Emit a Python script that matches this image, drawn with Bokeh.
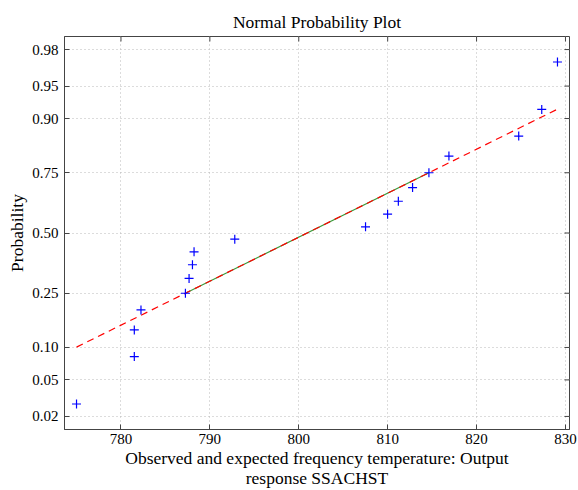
from statistics import NormalDist
import numpy as np
from bokeh.plotting import figure
from bokeh.models import FixedTicker, Range1d
from bokeh.embed import file_html
from bokeh.resources import INLINE

obs = [775.0, 781.5, 781.5, 782.25, 787.25, 787.66, 788.04, 788.22, 792.8,
       807.51, 809.99, 811.2, 812.8, 814.64, 816.89, 824.74, 827.33, 829.1]
prob_ticks = [0.02, 0.05, 0.10, 0.25, 0.50, 0.75, 0.90, 0.95, 0.98]
prob_labels = ["0.02", "0.05", "0.10", "0.25", "0.50", "0.75", "0.90", "0.95", "0.98"]
x_ticks = [780, 790, 800, 810, 820, 830]

nd = NormalDist()
n = len(obs)
x = np.sort(np.array(obs))
pp = [(i - 0.5) / n for i in range(1, n + 1)]
z = [nd.inv_cdf(v) for v in pp]

# quartiles (MATLAB prctile style)
def prct(data, p):
    pos = n * p / 100 + 0.5
    lo = int(np.floor(pos))
    fr = pos - lo
    lo = min(max(lo, 1), n)
    hi = min(lo + 1, n)
    return data[lo - 1] + fr * (data[hi - 1] - data[lo - 1])

q1, q3 = prct(x, 25), prct(x, 75)
zq1, zq3 = nd.inv_cdf(0.25), nd.inv_cdf(0.75)
slope = (zq3 - zq1) / (q3 - q1)
def fit(v):
    return zq1 + slope * (v - q1)

W, H = 578, 490
BL, BR, BT, BB = 64, 9, 36, 59
pad = 0.025 * (x.max() - x.min())
x0, x1 = x.min() - pad, x.max() + pad
y0, y1 = -2.2, 2.2

p = figure(width=W, height=H, output_backend="svg", toolbar_location=None,
           x_range=Range1d(x0, x1), y_range=Range1d(y0, y1),
           min_border_left=BL, min_border_right=BR, min_border_top=BT, min_border_bottom=BB,
           title="Normal Probability Plot")

FONT = "Liberation Serif"
p.title.align = "center"
p.title.text_font = FONT
p.title.text_font_size = "17.5px"
p.title.text_font_style = "normal"
p.title.text_color = "black"

zt = [nd.inv_cdf(t) for t in prob_ticks]

p.xaxis.ticker = FixedTicker(ticks=x_ticks)
p.yaxis.ticker = FixedTicker(ticks=zt)
p.yaxis.major_label_overrides = {t: l for t, l in zip(zt, prob_labels)}
p.xaxis.axis_label = "Observed and expected frequency temperature: Output\nresponse SSACHST"
p.yaxis.axis_label = "Probability"

AX = "#444444"
for ax in [p.xaxis[0], p.yaxis[0]]:
    ax.major_label_text_font = FONT
    ax.major_label_text_font_size = "15px"
    ax.major_label_text_color = "black"
    ax.axis_label_text_font = FONT
    ax.axis_label_text_font_size = "17.5px"
    ax.axis_label_text_font_style = "normal"
    ax.axis_label_text_color = "black"
    ax.axis_label_text_line_height = 1.0
    ax.major_tick_in = 5
    ax.major_tick_out = 0
    ax.minor_tick_line_color = None
    ax.axis_line_color = AX
    ax.major_tick_line_color = AX
p.xaxis.major_label_standoff = 4
p.xaxis.axis_label_standoff = 1
p.yaxis.major_label_standoff = 6
p.yaxis.axis_label_standoff = 2

p.grid.grid_line_color = "#b8b8b8"
p.grid.grid_line_dash = "1 3"
p.outline_line_color = AX

# inward ticks on top and right edges (5 px long)
fw = W - BL - BR
fh = H - BT - BB
dy = 5 * (y1 - y0) / fh
dx = 5 * (x1 - x0) / fw
p.segment(x0=x_ticks, y0=[y1] * len(x_ticks), x1=x_ticks, y1=[y1 - dy] * len(x_ticks),
          line_color=AX, line_width=1)
p.segment(x0=[x1] * len(zt), y0=zt, x1=[x1 - dx] * len(zt), y1=zt,
          line_color=AX, line_width=1)

# fit lines
p.line([q1, q3], [fit(q1), fit(q3)], line_color="#3a9a3a", line_width=1.2)
p.line([x.min(), x.max()], [fit(x.min()), fit(x.max())], line_color="#ff0000",
       line_width=1.2, line_dash="7 5")
p.scatter(x, z, marker="cross", size=9, line_color="#0000ff", line_width=1.2)

open("out.html", "w").write(file_html(p, INLINE))
